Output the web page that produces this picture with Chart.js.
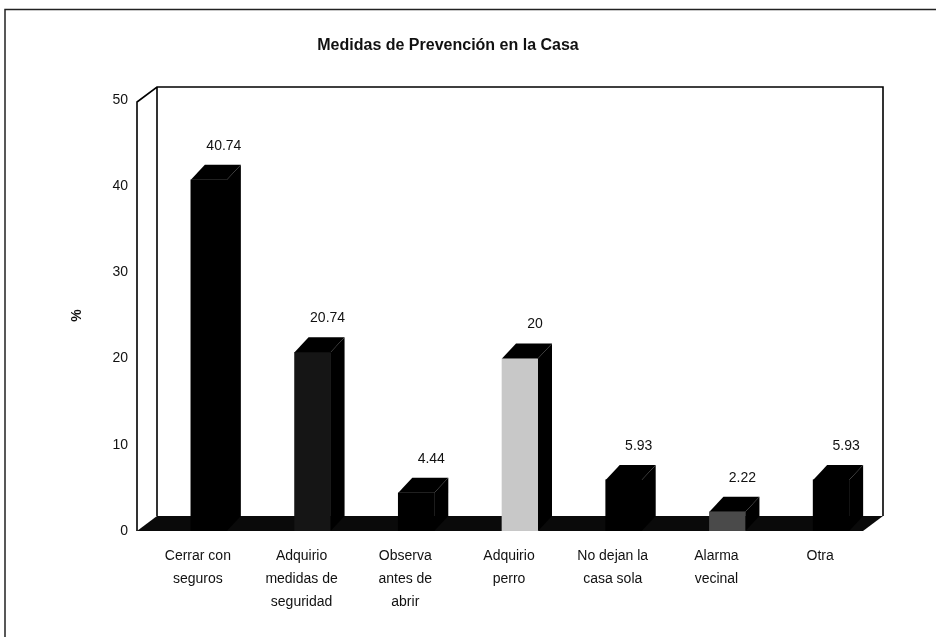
<!DOCTYPE html>
<html lang="es">
<head>
<meta charset="UTF-8">
<title>Medidas de Prevención en la Casa</title>
<script src="https://cdn.jsdelivr.net/npm/chart.js@4"></script>
<style>
  html, body { margin: 0; padding: 0; background: #fff; overflow: hidden; }
  .wrap { position: relative; width: 936px; height: 637px; }
</style>
</head>
<body>
<div class="wrap"><canvas id="grafica" width="936" height="637"></canvas></div>
<script>
// datos
const categorias = [
  ['Cerrar con', 'seguros'],
  ['Adquirio', 'medidas de', 'seguridad'],
  ['Observa', 'antes de', 'abrir'],
  ['Adquirio', 'perro'],
  ['No dejan la', 'casa sola'],
  ['Alarma', 'vecinal'],
  ['Otra']
];
const porcentajes = [40.74, 20.74, 4.44, 20, 5.93, 2.22, 5.93];
const ticksY = [0, 10, 20, 30, 40, 50];
const titulo = 'Medidas de Prevención en la Casa';

// estilo
const fuente = '"Liberation Sans", Arial, sans-serif';
const colorFrente = ['#000', '#151515', '#000', '#c8c8c8', '#000', '#4a4a4a', '#000'];
const DX = 14, DY = -15;   // profundidad de las barras
const WX = 20, WY = -15;   // profundidad de las paredes

// paredes, piso, marco y titulo
const paredes = {
  id: 'paredes',
  beforeDatasetsDraw(chart) {
    const { ctx, chartArea: a, scales: { y } } = chart;
    const y0 = y.getPixelForValue(0), yTop = y.getPixelForValue(50);
    const fl = a.left - WX, fr = a.right - WX;
    ctx.save();
    // marco exterior
    ctx.strokeStyle = '#222';
    ctx.lineWidth = 1.5;
    ctx.beginPath();
    ctx.moveTo(5, 640); ctx.lineTo(5, 9.5); ctx.lineTo(940, 9.5);
    ctx.stroke();
    // titulo
    ctx.fillStyle = '#111';
    ctx.font = 'bold 16px ' + fuente;
    ctx.textAlign = 'center';
    ctx.textBaseline = 'middle';
    ctx.fillText(titulo, 448, 46);
    // paredes
    ctx.strokeStyle = '#000';
    ctx.lineWidth = 1.6;
    ctx.beginPath();
    ctx.moveTo(fl, y0); ctx.lineTo(fl, yTop + 2); ctx.lineTo(fl + WX, yTop + 2 + WY);
    ctx.lineTo(fr + WX, yTop + 2 + WY); ctx.lineTo(fr + WX, y0 + WY);
    ctx.moveTo(fl + WX, yTop + 2 + WY); ctx.lineTo(fl + WX, y0 + WY);
    ctx.stroke();
    // piso
    ctx.fillStyle = '#0a0a0a';
    ctx.beginPath();
    ctx.moveTo(fl, y0); ctx.lineTo(fr, y0); ctx.lineTo(fr + WX, y0 + WY); ctx.lineTo(fl + WX, y0 + WY);
    ctx.closePath();
    ctx.fill();
    ctx.restore();
  },
  afterDatasetsDraw(chart) {
    const { ctx } = chart;
    const meta = chart.getDatasetMeta(0);
    ctx.save();
    meta.data.forEach((bar, i) => {
      const l = bar.x - bar.width / 2, r = bar.x + bar.width / 2;
      const t = bar.y, b = bar.base;
      ctx.fillStyle = '#000';
      // cara superior
      ctx.beginPath();
      ctx.moveTo(l, t); ctx.lineTo(l + DX, t + DY); ctx.lineTo(r + DX, t + DY); ctx.lineTo(r, t);
      ctx.closePath(); ctx.fill();
      // cara lateral
      ctx.beginPath();
      ctx.moveTo(r, t); ctx.lineTo(r + DX, t + DY); ctx.lineTo(r + DX, b + DY); ctx.lineTo(r, b);
      ctx.closePath(); ctx.fill();
      // etiqueta de valor
      ctx.fillStyle = '#111';
      ctx.font = '14px ' + fuente;
      ctx.textAlign = 'center';
      ctx.textBaseline = 'middle';
      ctx.fillText(String(porcentajes[i]), bar.x + 15, t - 34);
    });
    ctx.restore();
  }
};

new Chart(document.getElementById('grafica'), {
  type: 'bar',
  data: {
    labels: categorias,
    datasets: [{
      data: porcentajes,
      backgroundColor: colorFrente,
      borderWidth: 0,
      barThickness: 36
    }]
  },
  options: {
    responsive: false,
    animation: false,
    layout: { padding: { top: 100, right: 53, bottom: 0, left: 0 } },
    plugins: { legend: { display: false }, tooltip: { enabled: false }, title: { display: false } },
    scales: {
      x: {
        grid: { display: false, drawTicks: false },
        border: { display: false },
        ticks: {
          color: '#111', padding: 14, labelOffset: -11, maxRotation: 0, autoSkip: false,
          font: { family: fuente, size: 14, lineHeight: 1.62 }
        },
        afterFit: s => { s.height = 106; }
      },
      y: {
        min: 0, max: 50,
        grid: { display: false, drawTicks: false },
        border: { display: false },
        afterBuildTicks: s => { s.ticks = ticksY.map(v => ({ value: v })); },
        ticks: { color: '#111', padding: 29, font: { family: fuente, size: 14 } },
        title: { display: true, text: '%', color: '#111', padding: { top: 69, bottom: 0 }, font: { family: fuente, size: 14, weight: 'bold' } },
        afterFit: s => { s.width = 157; }
      }
    }
  },
  plugins: [paredes]
});
</script>
</body>
</html>
